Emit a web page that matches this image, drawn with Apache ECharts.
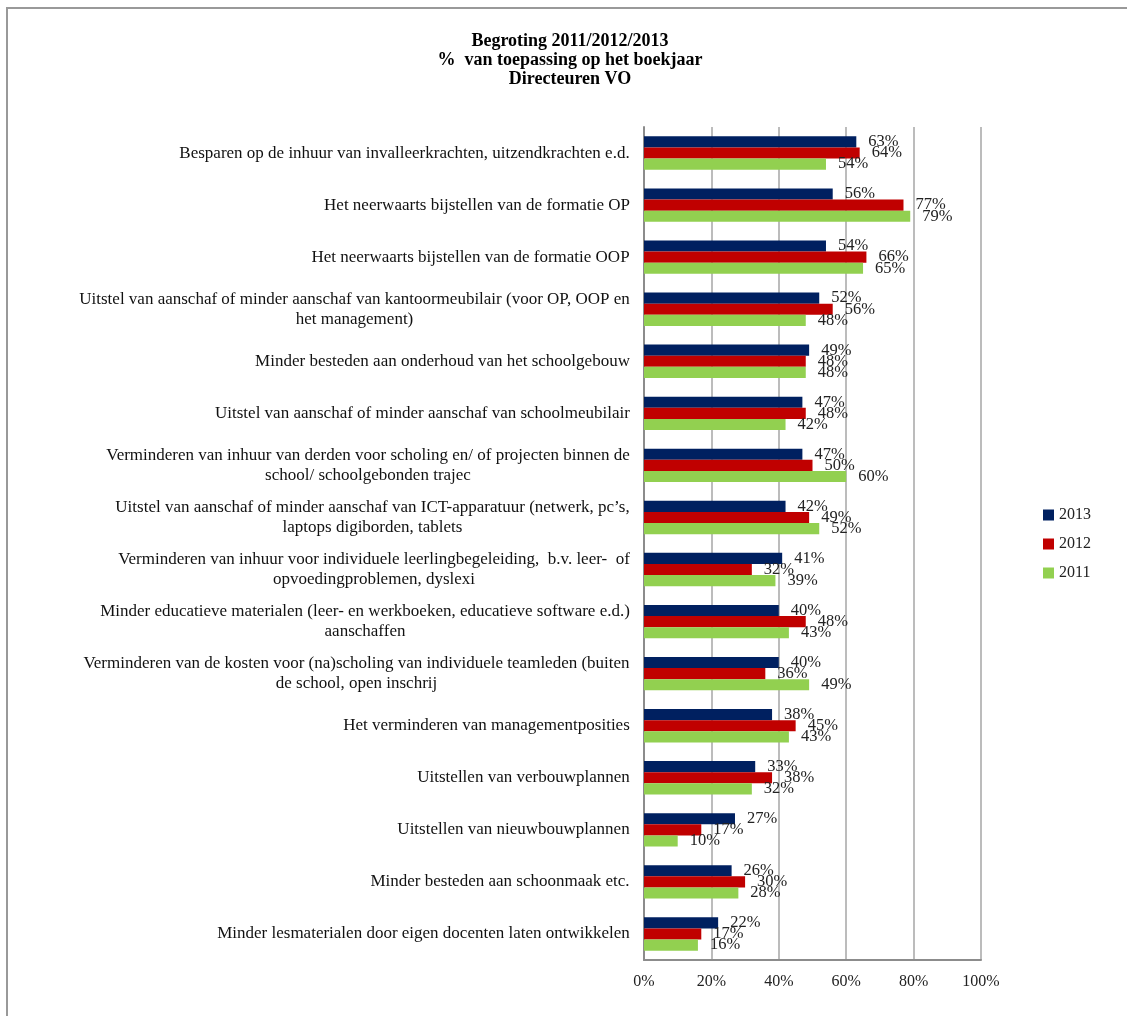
<!DOCTYPE html>
<html>
<head>
<meta charset="utf-8">
<script src="https://cdn.jsdelivr.net/npm/echarts@6/dist/echarts.min.js"></script>
<style>
html,body{margin:0;padding:0;background:#fff;}
#chart{width:1127px;height:1016px;}
</style>
</head>
<body>
<div id="chart"></div>
<script>
const categories = [
  "Besparen op de inhuur van invalleerkrachten, uitzendkrachten e.d.",
  "Het neerwaarts bijstellen van de formatie OP",
  "Het neerwaarts bijstellen van de formatie OOP",
  "Uitstel van aanschaf of minder aanschaf van kantoormeubilair (voor OP, OOP en\nhet management)",
  "Minder besteden aan onderhoud van het schoolgebouw",
  "Uitstel van aanschaf of minder aanschaf van schoolmeubilair",
  "Verminderen van inhuur van derden voor scholing en/ of projecten binnen de\nschool/ schoolgebonden trajec",
  "Uitstel van aanschaf of minder aanschaf van ICT-apparatuur (netwerk, pc’s,\nlaptops digiborden, tablets",
  "Verminderen van inhuur voor individuele leerlingbegeleiding,  b.v. leer-  of\nopvoedingproblemen, dyslexi",
  "Minder educatieve materialen (leer- en werkboeken, educatieve software e.d.)\naanschaffen",
  "Verminderen van de kosten voor (na)scholing van individuele teamleden (buiten\nde school, open inschrij",
  "Het verminderen van managementposities",
  "Uitstellen van verbouwplannen",
  "Uitstellen van nieuwbouwplannen",
  "Minder besteden aan schoonmaak etc.",
  "Minder lesmaterialen door eigen docenten laten ontwikkelen"
];
const values2013 = [63, 56, 54, 52, 49, 47, 47, 42, 41, 40, 40, 38, 33, 27, 26, 22];
const values2012 = [64, 77, 66, 56, 48, 48, 50, 49, 32, 48, 36, 45, 38, 17, 30, 17];
const values2011 = [54, 79, 65, 48, 48, 42, 60, 52, 39, 43, 49, 43, 32, 10, 28, 16];
const xTicks = [0, 20, 40, 60, 80, 100];
const titleLines = ["Begroting 2011/2012/2013", "%  van toepassing op het boekjaar", "Directeuren VO"];

const FONT = "'Liberation Serif', 'DejaVu Serif', serif";
const LABEL_SIZE = 17;

// measure widths to center lines of multi-line labels inside a right-aligned block
const ctx = document.createElement('canvas').getContext('2d');
ctx.font = LABEL_SIZE + "px " + FONT;
const rich = {};
categories.forEach(function (c, i) {
  const lines = c.split('\n');
  let w = 0;
  lines.forEach(function (l) { w = Math.max(w, ctx.measureText(l).width); });
  rich['w' + i] = {width: Math.ceil(w) + 2, align: 'center', fontFamily: FONT, fontSize: LABEL_SIZE, color: '#111', lineHeight: 20};
});

const chart = echarts.init(document.getElementById('chart'), null, {renderer: 'canvas'});

function mkSeries(name, data, color) {
  return {
    name: name,
    type: 'bar',
    data: data,
    itemStyle: {color: color},
    barGap: '0%',
    barCategoryGap: '36%',
    label: {
      show: true,
      position: 'right',
      distance: 12,
      formatter: '{c}%',
      fontFamily: FONT,
      fontSize: 16.5,
      color: '#222'
    }
  };
}

chart.setOption({
  animation: false,
  backgroundColor: '#fff',
  title: {
    text: titleLines.join('\n'),
    left: 565,
    textAlign: 'center',
    top: 27,
    textStyle: {fontFamily: FONT, fontSize: 18, fontWeight: 'bold', color: '#000', lineHeight: 19}
  },
  graphic: [{
    type: 'rect',
    shape: {x: 7, y: 8, width: 1200, height: 1100},
    style: {fill: 'none', stroke: '#999', lineWidth: 2},
    silent: true
  }],
  legend: {
    orient: 'vertical',
    left: 1038,
    top: 502,
    itemWidth: 11,
    itemHeight: 11,
    itemGap: 13,
    icon: 'rect',
    data: ['2013', '2012', '2011'],
    textStyle: {fontFamily: FONT, fontSize: 16, color: '#222'}
  },
  grid: {left: 644, right: 146, top: 127, bottom: 56, containLabel: false},
  xAxis: {
    type: 'value',
    min: 0,
    max: 100,
    interval: 20,
    axisLine: {show: true, lineStyle: {color: '#8c8c8c', width: 2}},
    axisTick: {show: false},
    splitLine: {show: true, lineStyle: {color: '#a6a6a6', width: 1.5}},
    axisLabel: {
      formatter: function (v) { return xTicks.indexOf(v) >= 0 ? v + '%' : ''; },
      fontFamily: FONT, fontSize: 16, color: '#222', margin: 14
    }
  },
  yAxis: {
    type: 'category',
    data: categories,
    inverse: true,
    axisLine: {show: true, lineStyle: {color: '#8c8c8c', width: 2}},
    axisTick: {show: false},
    axisLabel: {
      margin: 13,
      align: 'right',
      formatter: function (v, i) {
        return v.split('\n').map(function (l) { return '{w' + i + '|' + l + '}'; }).join('\n');
      },
      rich: rich
    }
  },
  series: [
    mkSeries('2013', values2013, '#002060'),
    mkSeries('2012', values2012, '#C00000'),
    mkSeries('2011', values2011, '#92D050')
  ]
});
</script>
</body>
</html>
